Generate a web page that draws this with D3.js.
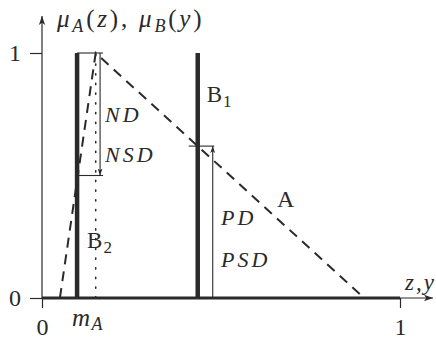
<!DOCTYPE html>
<html>
<head>
<meta charset="utf-8">
<script src="https://cdn.jsdelivr.net/npm/d3@7"></script>
<style>
  html, body { margin: 0; padding: 0; background: #fff; }
  svg { display: block; }
  svg text, svg tspan { font-family: 'Liberation Serif' !important; }
</style>
</head>
<body>
<svg id="chart" width="436" height="342" font-family="Liberation Serif"></svg>
<script>
// Triangular fuzzy number A: left foot, peak (m_A), right foot
const triangleA = [[0.05, 0], [0.15, 1], [0.9, 0]];
const mA = 0.15;
// Crisp singletons B1 and B2 (positions on the z,y axis)
const singletons = [{ name: "B", sub: "1", x: 0.435 }, { name: "B", sub: "2", x: 0.098 }];
// Possibility of A at B1, necessity level at B2
const possAtB1 = 0.62;
const necAtB2 = 0.5;
const xTicks = [0, 1];
const yTicks = [0, 1];

const FONT = "Liberation Serif";
const svg = d3.select("#chart");
const x = d3.scaleLinear().domain([0, 1]).range([42, 400]);
const y = d3.scaleLinear().domain([0, 1]).range([298, 53]);
const ink = "#2a2a2a";

const defs = svg.append("defs");
defs.append("marker").attr("id", "axisArrow").attr("viewBox", "0 0 10 10")
  .attr("refX", 10).attr("refY", 5).attr("markerWidth", 9).attr("markerHeight", 9)
  .attr("markerUnits", "userSpaceOnUse").attr("orient", "auto")
  .append("path").attr("d", "M0,1.5 L10,5 L0,8.5 L2.5,5 Z").attr("fill", ink);
defs.append("marker").attr("id", "thinArrow").attr("viewBox", "0 0 10 10")
  .attr("refX", 10).attr("refY", 5).attr("markerWidth", 7).attr("markerHeight", 7)
  .attr("markerUnits", "userSpaceOnUse").attr("orient", "auto")
  .append("path").attr("d", "M0,1.5 L10,5 L0,8.5 L2.5,5 Z").attr("fill", ink);

// Left axis ticks and labels
const yAxis = svg.append("g").attr("transform", `translate(${x(0)},0)`)
  .call(d3.axisLeft(y).tickValues(yTicks).tickFormat(d3.format("d")).tickSize(12).tickPadding(9));
yAxis.attr("font-family", FONT).attr("font-size", 24);
yAxis.select(".domain").remove();
yAxis.selectAll("line").attr("stroke", ink).attr("stroke-width", 1.2);
yAxis.selectAll("text").attr("fill", ink).attr("font-family", FONT);

// Bottom axis ticks and labels
const xAxis = svg.append("g").attr("transform", `translate(0,${y(0)})`)
  .call(d3.axisBottom(x).tickValues(xTicks).tickFormat(d3.format("d")).tickSize(10).tickPadding(10));
xAxis.attr("font-family", FONT).attr("font-size", 24);
xAxis.select(".domain").remove();
xAxis.selectAll("line").attr("stroke", ink).attr("stroke-width", 1.2);
xAxis.selectAll("text").attr("fill", ink).attr("font-family", FONT);

// Axis lines with arrows
svg.append("line").attr("x1", x(0)).attr("y1", y(0)).attr("x2", x(0)).attr("y2", 16)
  .attr("stroke", ink).attr("stroke-width", 1.2).attr("marker-end", "url(#axisArrow)");
svg.append("line").attr("x1", x(1)).attr("y1", y(0)).attr("x2", 433).attr("y2", y(0))
  .attr("stroke", ink).attr("stroke-width", 1.2).attr("marker-end", "url(#axisArrow)");
svg.append("line").attr("x1", x(0)).attr("y1", y(0)).attr("x2", x(1)).attr("y2", y(0))
  .attr("stroke", ink).attr("stroke-width", 3.2);

// Dotted line at m_A
svg.append("line").attr("x1", x(mA)).attr("x2", x(mA)).attr("y1", y(0)).attr("y2", y(1))
  .attr("stroke", ink).attr("stroke-width", 1.6).attr("stroke-dasharray", "1.2 8.5")
  .attr("stroke-linecap", "round");

// Fuzzy number A (dashed triangle)
svg.append("path").datum(triangleA)
  .attr("d", d3.line().x(d => x(d[0])).y(d => y(d[1])))
  .attr("fill", "none").attr("stroke", ink).attr("stroke-width", 2)
  .attr("stroke-dasharray", "10 7");

// Singletons B1, B2 as thick vertical bars
svg.selectAll("line.single").data(singletons).enter().append("line")
  .attr("class", "single")
  .attr("x1", d => x(d.x)).attr("x2", d => x(d.x))
  .attr("y1", y(0) + 1).attr("y2", y(1))
  .attr("stroke", ink).attr("stroke-width", 4.5);

const b1 = singletons[0], b2 = singletons[1];

// PD / PSD arrow: from 0 up to the possibility level at B1
const pdX = x(b1.x) + 15;
svg.append("line").attr("x1", x(b1.x) - 9).attr("x2", pdX + 1.5)
  .attr("y1", y(possAtB1)).attr("y2", y(possAtB1)).attr("stroke", ink).attr("stroke-width", 1.1);
svg.append("line").attr("x1", pdX).attr("x2", pdX).attr("y1", y(0)).attr("y2", y(possAtB1))
  .attr("stroke", ink).attr("stroke-width", 1.1).attr("marker-end", "url(#thinArrow)");

// ND / NSD arrow: from 1 down to the necessity level at B2
const ndX = x(b2.x) + 23;
svg.append("line").attr("x1", x(b2.x)).attr("x2", ndX + 3)
  .attr("y1", y(1)).attr("y2", y(1)).attr("stroke", ink).attr("stroke-width", 1.1);
svg.append("line").attr("x1", x(b2.x)).attr("x2", ndX + 3)
  .attr("y1", y(necAtB2)).attr("y2", y(necAtB2)).attr("stroke", ink).attr("stroke-width", 1.1);
svg.append("line").attr("x1", ndX).attr("x2", ndX).attr("y1", y(1)).attr("y2", y(necAtB2))
  .attr("stroke", ink).attr("stroke-width", 1.1).attr("marker-end", "url(#thinArrow)");

// Text helpers
function txt(tx, ty, size) {
  return svg.append("text").attr("x", tx).attr("y", ty).attr("fill", ink)
    .attr("font-family", FONT).attr("font-size", size);
}
function label(tx, ty, main, sub, opts = {}) {
  const size = opts.size || 21;
  const t = txt(tx, ty, size).attr("font-style", opts.italic ? "italic" : "normal");
  if (opts.spacing) t.attr("letter-spacing", opts.spacing);
  t.append("tspan").text(main);
  if (sub) t.append("tspan").attr("font-size", Math.round(size * 0.72))
    .attr("dy", opts.subDy || 5).attr("font-style", opts.subItalic ? "italic" : "normal").text(sub);
  return t;
}

label(x(b1.x) + 9, 102, "B", "1", { size: 23, spacing: 1 });
label(x(b2.x) + 10, 248, "B", "2", { size: 23, spacing: 1 });
label(277, 207, "A", null, { size: 24 });
[["ND", 105, 122], ["NSD", 105, 162], ["PD", 221, 225], ["PSD", 221, 267]].forEach(([s, tx, ty]) => {
  txt(tx, ty, 22).attr("font-style", "italic").attr("letter-spacing", 3).text(s);
});

// m_A under the axis
label(72, 326, "m", "A", { size: 25, italic: true, subItalic: true, subDy: 4, spacing: 1.5 });

// Axis titles
const yt = txt(57, 27, 25).attr("letter-spacing", 2.8);
yt.append("tspan").attr("font-style", "italic").text("μ");
yt.append("tspan").attr("font-size", 18).attr("dy", 5).attr("font-style", "italic").text("A");
yt.append("tspan").attr("dy", -5).text("(");
yt.append("tspan").attr("font-style", "italic").text("z");
yt.append("tspan").text("), ");
yt.append("tspan").attr("font-style", "italic").text("μ");
yt.append("tspan").attr("font-size", 18).attr("dy", 5).attr("font-style", "italic").text("B");
yt.append("tspan").attr("dy", -5).text("(");
yt.append("tspan").attr("font-style", "italic").text("y");
yt.append("tspan").text(")");

txt(405, 290, 23).attr("font-style", "italic").attr("letter-spacing", 2).text("z,y");
</script>
</body>
</html>
